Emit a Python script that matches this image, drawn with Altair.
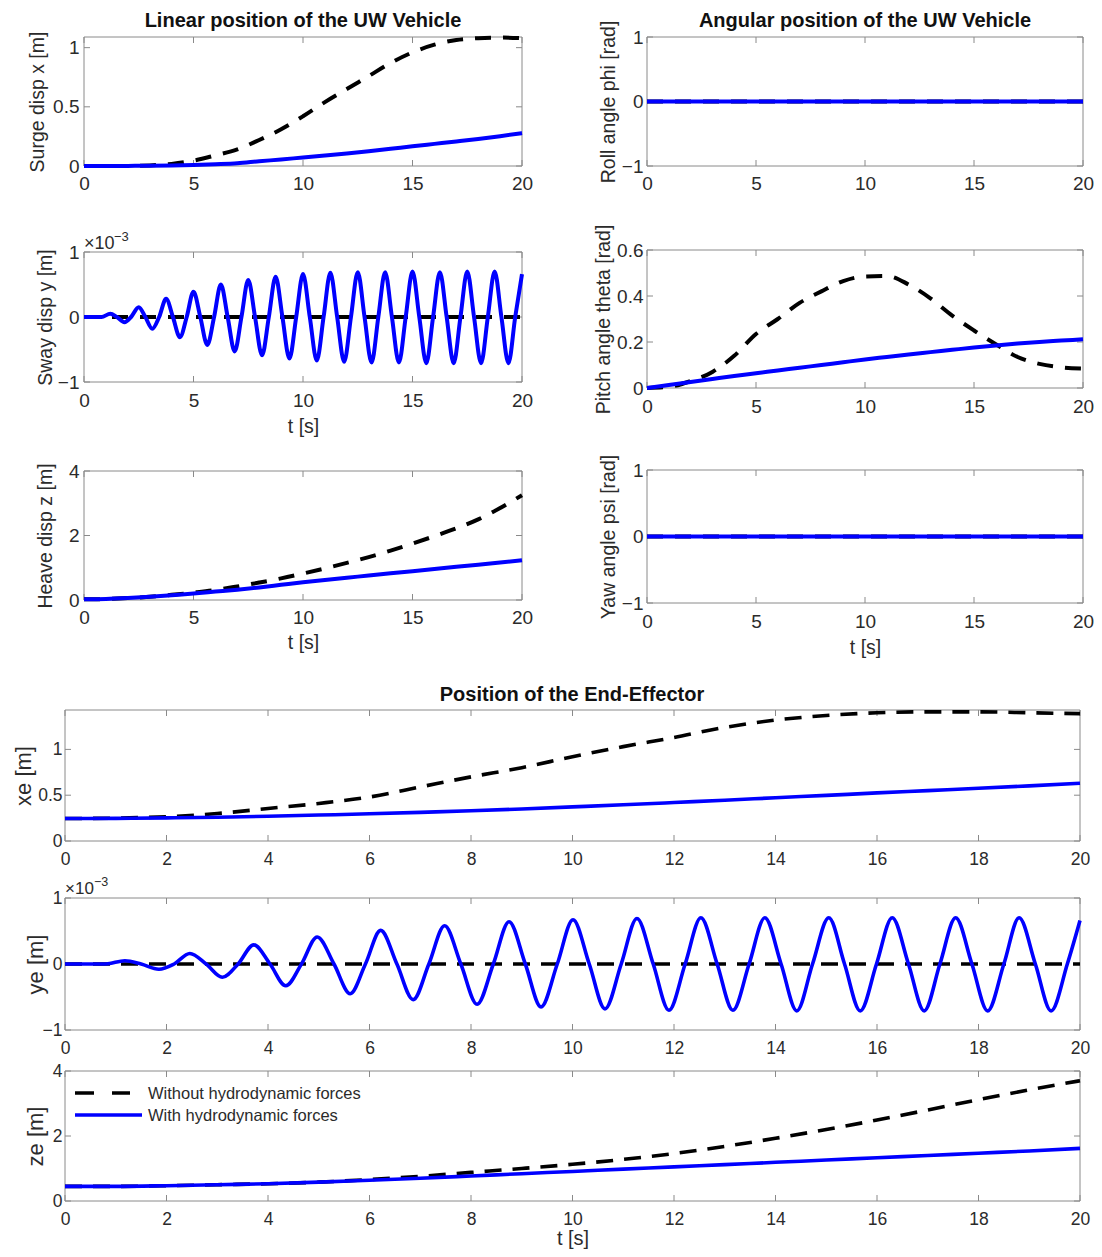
import altair as alt
import pandas as pd

# ---------------- values ----------------
T = list(range(21))  # t [s] = 0..20

SURGE_WITHOUT = [0, 0, 0, 0.005, 0.018, 0.045, 0.09, 0.14, 0.22, 0.31, 0.42,
                 0.54, 0.65, 0.76, 0.87, 0.96, 1.025, 1.065, 1.08, 1.085, 1.08]
SURGE_WITH = [0, 0, 0.001, 0.002, 0.005, 0.009, 0.015, 0.023, 0.04, 0.055, 0.072,
              0.088, 0.105, 0.124, 0.145, 0.167, 0.187, 0.207, 0.228, 0.252, 0.278]

SWAY_WITHOUT_T = [0, 20]
SWAY_WITHOUT = [0, 0]
SWAY_T = [0, 0.8, 1.2, 1.5, 1.85, 2.15, 2.5, 2.8, 3.12, 3.43, 3.75, 4.06, 4.38, 4.69,
          5.0, 5.31, 5.63, 5.94, 6.25, 6.56, 6.88, 7.19, 7.5, 7.81, 8.13, 8.44, 8.75,
          9.06, 9.38, 9.69, 10.0, 10.31, 10.63, 10.94, 11.25, 11.56, 11.88, 12.19,
          12.5, 12.81, 13.13, 13.44, 13.75, 14.06, 14.38, 14.69, 15.0, 15.31, 15.63,
          15.94, 16.25, 16.56, 16.88, 17.19, 17.5, 17.81, 18.13, 18.44, 18.75, 19.06,
          19.38, 19.69, 20.0]
SWAY_WITH = [0, 0, 0.05, 0, -0.08, 0, 0.15, 0, -0.18, 0, 0.28, 0, -0.31, 0,
             0.39, 0, -0.43, 0, 0.5, 0, -0.53, 0, 0.57, 0, -0.59, 0, 0.62,
             0, -0.64, 0, 0.66, 0, -0.67, 0, 0.68, 0, -0.69, 0,
             0.69, 0, -0.7, 0, 0.69, 0, -0.7, 0, 0.7, 0, -0.71,
             0, 0.69, 0, -0.71, 0, 0.7, 0, -0.71, 0, 0.7, 0,
             -0.71, 0, 0.66]

HEAVE_WITHOUT = [0.02, 0.03, 0.06, 0.1, 0.16, 0.23, 0.31, 0.42, 0.54, 0.67, 0.82,
                 0.98, 1.15, 1.33, 1.53, 1.75, 1.98, 2.22, 2.5, 2.85, 3.25]
HEAVE_WITH = [0.02, 0.03, 0.06, 0.1, 0.15, 0.2, 0.26, 0.32, 0.39, 0.47, 0.55,
              0.62, 0.69, 0.76, 0.83, 0.89, 0.96, 1.03, 1.09, 1.16, 1.23]

ROLL_T = [0, 20]
ROLL_WITHOUT = [0, 0]
ROLL_WITH = [0, 0]

PITCH_WITHOUT = [0, 0.005, 0.03, 0.07, 0.14, 0.235, 0.3, 0.37, 0.42, 0.465, 0.485,
                 0.487, 0.45, 0.39, 0.315, 0.25, 0.19, 0.135, 0.105, 0.09, 0.085]
PITCH_WITH = [0, 0.013, 0.026, 0.039, 0.052, 0.064, 0.076, 0.088, 0.1, 0.112, 0.124,
              0.135, 0.146, 0.156, 0.166, 0.176, 0.185, 0.193, 0.2, 0.206, 0.212]

YAW_T = [0, 20]
YAW_WITHOUT = [0, 0]
YAW_WITH = [0, 0]

XE_WITHOUT = [0.245, 0.25, 0.265, 0.3, 0.355, 0.41, 0.48, 0.59, 0.7, 0.8, 0.92,
              1.03, 1.13, 1.24, 1.32, 1.37, 1.4, 1.41, 1.41, 1.4, 1.39]
XE_WITH = [0.245, 0.247, 0.252, 0.26, 0.27, 0.283, 0.297, 0.313, 0.33, 0.35, 0.372,
           0.395, 0.42, 0.445, 0.472, 0.498, 0.525, 0.55, 0.575, 0.602, 0.63]

YE_WITHOUT_T = [0, 20]
YE_WITHOUT = [0, 0]
YE_T = [0, 0.8, 1.18, 1.5, 1.85, 2.15, 2.46, 2.78, 3.1, 3.41, 3.72, 4.04, 4.35, 4.66,
        4.97, 5.3, 5.62, 5.92, 6.22, 6.54, 6.86, 7.17, 7.48, 7.8, 8.12, 8.44, 8.75,
        9.07, 9.38, 9.7, 10.01, 10.33, 10.64, 10.96, 11.27, 11.59, 11.9, 12.22,
        12.53, 12.85, 13.16, 13.48, 13.79, 14.11, 14.42, 14.73, 15.05, 15.36, 15.67,
        15.99, 16.3, 16.62, 16.93, 17.24, 17.55, 17.87, 18.18, 18.5, 18.8, 19.12,
        19.43, 19.75, 20.0]
YE_WITH = [0, 0, 0.05, 0, -0.08, 0, 0.16, 0, -0.2, 0, 0.29, 0, -0.33, 0,
           0.41, 0, -0.45, 0, 0.51, 0, -0.54, 0, 0.58, 0, -0.61, 0, 0.64,
           0, -0.65, 0, 0.67, 0, -0.68, 0, 0.69, 0, -0.7, 0,
           0.7, 0, -0.7, 0, 0.7, 0, -0.71, 0, 0.7, 0, -0.71,
           0, 0.7, 0, -0.71, 0, 0.7, 0, -0.71, 0, 0.7, 0,
           -0.71, 0, 0.66]

ZE_WITHOUT = [0.45, 0.45, 0.47, 0.5, 0.53, 0.58, 0.66, 0.76, 0.88, 1.0, 1.13,
              1.28, 1.46, 1.68, 1.93, 2.2, 2.49, 2.8, 3.12, 3.42, 3.7]
ZE_WITH = [0.45, 0.45, 0.47, 0.5, 0.53, 0.58, 0.64, 0.7, 0.77, 0.84, 0.91,
           0.98, 1.05, 1.12, 1.19, 1.26, 1.33, 1.4, 1.47, 1.54, 1.62]

TITLES = ["Linear position of the UW Vehicle", "Angular position of the UW Vehicle",
          "Position of the End-Effector"]
YTITLES = ["Surge disp x [m]", "Sway disp y [m]", "Heave disp z [m]",
           "Roll angle phi [rad]", "Pitch angle theta [rad]", "Yaw angle psi [rad]",
           "xe [m]", "ye [m]", "ze [m]"]
XTITLE = "t [s]"
LEGEND = ["Without hydrodynamic forces", "With hydrodynamic forces"]
EXP_BASE = "×10"
EXP_POW = "−3"

XT_TOP = [0, 5, 10, 15, 20]
XT_BOT = [0, 2, 4, 6, 8, 10, 12, 14, 16, 18, 20]
YT_SURGE = [0, 0.5, 1]
YT_UNIT = [-1, 0, 1]
YT_FOUR = [0, 2, 4]
YT_PITCH = [0, 0.2, 0.4, 0.6]

# ---------------- layout / style ----------------
OX = OY = 8
W, H = 1086, 1241
FONT = "Liberation Sans"
TXT = "#2b2b2b"
FRAME = "#8a8a8a"
BLUE = "#0000ff"
TICK = 6
XEXT = 28
YEXT = 10

TOP_STYLE = dict(lab_font=FONT, lab_size=19, yt_size=19.5, xt_size=19.5, lw=4,
                 dash=[16, 12], ylab_pad=5)
RIGHT_STYLE = dict(TOP_STYLE, ylab_pad=4)
BOT_STYLE = dict(lab_font=FONT, lab_size=17.5, yt_size=22, xt_size=20, lw=3.6,
                 dash=[17, 11], ylab_pad=3)


def panel(t_wo, v_wo, t_w, v_w, box, ydom, xticks, yticks, ytitle, ytitle_cx, st,
          xlab_cy, xtitle=None, xtitle_cy=None):
    x0, x1, y0, y1 = box
    X0, X1, Y0, Y1 = x0 - OX, x1 - OX, y0 - OY, y1 - OY
    xs = alt.Scale(domain=[0, 20], range=[X0, X1], nice=False, zero=False)
    ys = alt.Scale(domain=ydom, range=[Y1, Y0], nice=False, zero=False)
    xax = dict(orient="bottom", offset=Y1 - H, values=xticks, format="~g", ticks=False,
               domain=False, grid=False, labelFont=st["lab_font"],
               labelFontSize=st["lab_size"], labelColor=TXT, labelFlush=False,
               labelOverlap=False, labelPadding=xlab_cy - y1 - 0.43 * st["lab_size"],
               minExtent=XEXT, maxExtent=XEXT, title=None)
    if xtitle:
        xax.update(title=xtitle, titleFont=FONT, titleFontSize=st["xt_size"],
                   titleFontWeight="normal", titleColor=TXT,
                   titlePadding=(xtitle_cy - 0.5 * st["xt_size"] - y1) - XEXT)
    yax = dict(orient="left", offset=-X0, values=yticks, format="~g", ticks=False,
               domain=False, grid=False, labelFont=st["lab_font"],
               labelFontSize=st["lab_size"], labelColor=TXT, labelPadding=st["ylab_pad"],
               labelOverlap=False, minExtent=YEXT, maxExtent=YEXT, title=ytitle,
               titleFont=FONT, titleFontSize=st["yt_size"], titleFontWeight="normal",
               titleColor=TXT,
               titlePadding=(x0 - (ytitle_cx + 0.57 * st["yt_size"])) - YEXT)
    X = lambda f: alt.X(f, scale=xs, axis=alt.Axis(**xax))
    Y = lambda f: alt.Y(f, scale=ys, axis=alt.Axis(**yax))

    frame = alt.Chart(pd.DataFrame({"k": [0]})).mark_rect(
        fill="transparent", stroke=FRAME, strokeWidth=1).encode(
        x=alt.value(X0), x2=alt.value(X1), y=alt.value(Y0), y2=alt.value(Y1))
    xt = alt.Chart(pd.DataFrame({"t": xticks}))
    yt = alt.Chart(pd.DataFrame({"v": yticks}))
    xtick_b = xt.mark_rule(color=FRAME, strokeWidth=1).encode(
        x=X("t:Q"), y=alt.value(Y1), y2=alt.value(Y1 - TICK))
    xtick_t = xt.mark_rule(color=FRAME, strokeWidth=1).encode(
        x=X("t:Q"), y=alt.value(Y0), y2=alt.value(Y0 + TICK))
    ytick_l = yt.mark_rule(color=FRAME, strokeWidth=1).encode(
        y=Y("v:Q"), x=alt.value(X0), x2=alt.value(X0 + TICK))
    ytick_r = yt.mark_rule(color=FRAME, strokeWidth=1).encode(
        y=Y("v:Q"), x=alt.value(X1), x2=alt.value(X1 - TICK))

    dashed = alt.Chart(pd.DataFrame({"t": t_wo, "v": v_wo})).mark_line(
        color="black", strokeWidth=st["lw"], strokeDash=st["dash"],
        interpolate="monotone").encode(x=X("t:Q"), y=Y("v:Q"))
    solid = alt.Chart(pd.DataFrame({"t": t_w, "v": v_w})).mark_line(
        color=BLUE, strokeWidth=st["lw"], interpolate="monotone").encode(
        x=X("t:Q"), y=Y("v:Q"))
    return alt.layer(frame, xtick_b, xtick_t, ytick_l, ytick_r, dashed, solid)


def text(label, x, y, size, weight="normal", align="center", font=FONT, color=TXT):
    return alt.Chart(pd.DataFrame({"label": [label]})).mark_text(
        align=align, baseline="alphabetic", font=font, fontSize=size,
        fontWeight=weight, color=color).encode(
        x=alt.value(x - OX), y=alt.value(y - OY), text="label:N")


panels = [
    panel(T, SURGE_WITHOUT, T, SURGE_WITH, (84, 522, 37, 166), [0, 1.09], XT_TOP,
          YT_SURGE, YTITLES[0], 36, TOP_STYLE, 183),
    panel(SWAY_WITHOUT_T, SWAY_WITHOUT, SWAY_T, SWAY_WITH, (84, 522, 252, 382), [-1, 1],
          XT_TOP, YT_UNIT, YTITLES[1], 44, TOP_STYLE, 400, XTITLE, 427),
    panel(T, HEAVE_WITHOUT, T, HEAVE_WITH, (84, 522, 471, 600), [0, 4], XT_TOP,
          YT_FOUR, YTITLES[2], 44, TOP_STYLE, 617, XTITLE, 643),
    panel(ROLL_T, ROLL_WITHOUT, ROLL_T, ROLL_WITH, (647, 1083, 37, 166), [-1, 1],
          XT_TOP, YT_UNIT, YTITLES[3], 607, RIGHT_STYLE, 183),
    panel(T, PITCH_WITHOUT, T, PITCH_WITH, (647, 1083, 250, 388), [0, 0.6], XT_TOP,
          YT_PITCH, YTITLES[4], 602, RIGHT_STYLE, 406),
    panel(YAW_T, YAW_WITHOUT, YAW_T, YAW_WITH, (647, 1083, 470, 603), [-1, 1],
          XT_TOP, YT_UNIT, YTITLES[5], 607, RIGHT_STYLE, 621, XTITLE, 648),
    panel(T, XE_WITHOUT, T, XE_WITH, (65, 1080, 710, 841), [0, 1.43], XT_BOT,
          YT_SURGE, YTITLES[6], 23, BOT_STYLE, 858),
    panel(YE_WITHOUT_T, YE_WITHOUT, YE_T, YE_WITH, (65, 1080, 898, 1030), [-1, 1],
          XT_BOT, YT_UNIT, YTITLES[7], 35, BOT_STYLE, 1047),
    panel(T, ZE_WITHOUT, T, ZE_WITH, (65, 1080, 1071, 1201), [0, 4], XT_BOT,
          YT_FOUR, YTITLES[8], 35, BOT_STYLE, 1218, XTITLE, 1238),
]

texts = [
    text(TITLES[0], 303, 26.5, 20, "bold", color="#111111"),
    text(TITLES[1], 865, 26.5, 20, "bold", color="#111111"),
    text(TITLES[2], 572, 701, 20, "bold", color="#111111"),
    text(EXP_BASE, 84, 249, 18, align="left"),
    text(EXP_POW, 114, 241, 13, align="left"),
    text(EXP_BASE, 65, 894, 17, align="left"),
    text(EXP_POW, 94, 886, 12.5, align="left"),
    text(LEGEND[0], 148, 1099, 16.5, align="left"),
    text(LEGEND[1], 148, 1121, 16.5, align="left"),
]

legend_lines = [
    alt.Chart(pd.DataFrame({"series": [LEGEND[0]]})).mark_rule(
        color="black", strokeWidth=3.6, strokeDash=[19, 18]).encode(
        x=alt.value(75 - OX), x2=alt.value(130 - OX), y=alt.value(1093 - OY)),
    alt.Chart(pd.DataFrame({"series": [LEGEND[1]]})).mark_rule(
        color=BLUE, strokeWidth=3.6).encode(
        x=alt.value(75 - OX), x2=alt.value(142 - OX), y=alt.value(1115 - OY)),
]

chart = alt.layer(*panels, *texts, *legend_lines).resolve_scale(
    x="independent", y="independent").resolve_axis(
    x="independent", y="independent").properties(
    width=W, height=H, padding=0,
    autosize=alt.AutoSizeParams(type="none"),
    background="white").configure_view(stroke=None)

chart.save("out.html", embed_options={"renderer": "svg", "actions": False})
